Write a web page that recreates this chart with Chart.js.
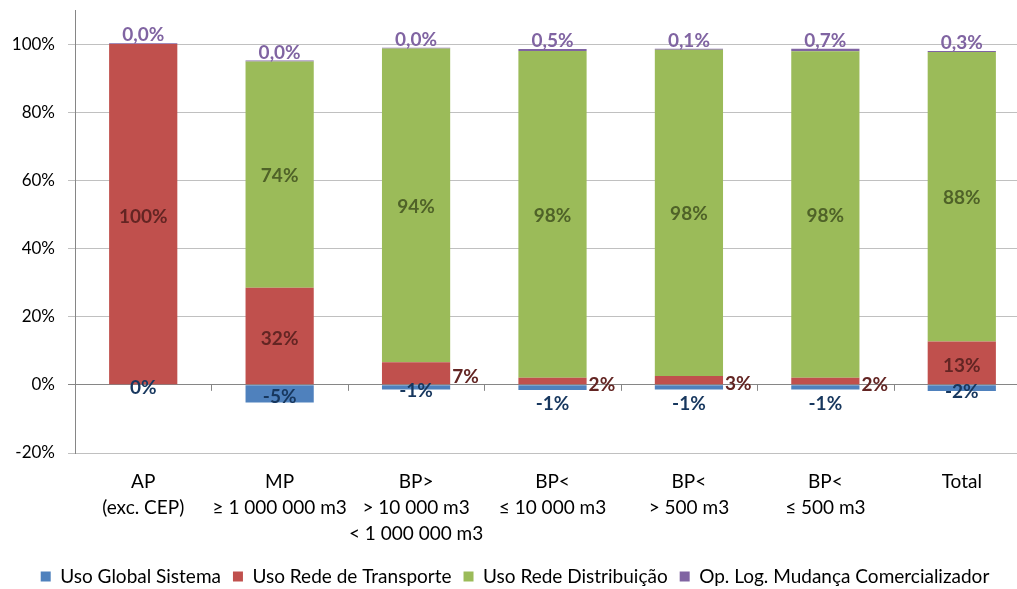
<!DOCTYPE html>
<html><head><meta charset="utf-8">
<script src="https://cdn.jsdelivr.net/npm/chart.js@4"></script>
<style>html,body{margin:0;padding:0;overflow:hidden;background:#fff;} #wrap{width:1050px;height:596px;}</style>
</head><body><div id="wrap"><canvas id="c" width="1050" height="596"></canvas></div>
<script>
const categories = [
  ['AP', '(exc. CEP)'],
  ['MP', '≥ 1 000 000 m3'],
  ['BP>', '> 10 000 m3', '< 1 000 000 m3'],
  ['BP<', '≤ 10 000 m3'],
  ['BP<', '> 500 m3'],
  ['BP<', '≤ 500 m3'],
  ['Total']
];
const usoGlobalSistema    = [0, -5.2, -1.4, -1.5, -1.4, -1.4, -1.8];
const usoRedeTransporte   = [100, 28.5, 6.6, 2.1, 2.6, 2.1, 12.7];
const usoRedeDistribuicao = [0, 66.4, 92.1, 95.9, 95.7, 95.8, 85.0];
const opLogMudanca        = [0.25, 0.25, 0.25, 0.55, 0.3, 0.7, 0.3];

const labelsGlobal       = ['0%', '-5%', '-1%', '-1%', '-1%', '-1%', '-2%'];
const labelsTransporte   = ['100%', '32%', '7%', '2%', '3%', '2%', '13%'];
const labelsDistribuicao = ['', '74%', '94%', '98%', '98%', '98%', '88%'];
const labelsMudanca      = ['0,0%', '0,0%', '0,0%', '0,5%', '0,1%', '0,7%', '0,3%'];

const yTicks = [-20, 0, 20, 40, 60, 80, 100];

// label placement styles (not data)
const modesGlobal = ['center', 'center', 'center', 'below', 'below', 'below', 'center'];
const modesTransporte = ['center', 'center', 'right', 'right', 'right', 'right', 'center'];
const modesDistribuicao = ['center', 'center', 'center', 'center', 'center', 'center', 'center'];
const modesMudanca = ['above', 'above', 'above', 'above', 'above', 'above', 'above'];

const FONT = 'Lato';

const labelPlugin = {
  id: 'barLabels',
  afterDatasetsDraw(chart) {
    const ctx = chart.ctx;
    chart.data.datasets.forEach((ds, di) => {
      const meta = chart.getDatasetMeta(di);
      meta.data.forEach((bar, i) => {
        const txt = ds.valueLabels[i];
        if (!txt) return;
        const mode = ds.labelModes[i];
        const top = Math.min(bar.y, bar.base), bottom = Math.max(bar.y, bar.base);
        const cy = (top + bottom) / 2;
        let x = bar.x, y = cy, align = 'center';
        if (mode === 'center') y = cy + (ds.labelShift || 0);
        else if (mode === 'below') y = bottom + 13;
        else if (mode === 'right') { x = bar.x + bar.width / 2 + 2; align = 'left'; y = cy + 2.5; }
        else if (mode === 'above') y = top - 9;
        ctx.save();
        ctx.font = 'bold 19px ' + FONT;
        ctx.fillStyle = ds.labelColor;
        ctx.textAlign = align;
        ctx.textBaseline = 'alphabetic';
        ctx.fillText(txt, x, y + 7);
        ctx.restore();
      });
    });
  }
};

const zeroTicks = {
  id: 'zeroTicks',
  beforeDatasetsDraw(chart) {
    const xs = chart.scales.x, ys = chart.scales.y;
    const y0 = ys.getPixelForValue(0);
    const n = xs.ticks.length;
    const ctx = chart.ctx;
    ctx.save();
    ctx.strokeStyle = '#868686';
    ctx.lineWidth = 1;
    for (let i = 1; i <= n; i++) {
      const x = Math.round(xs.left + i * xs.width / n) + 0.5;
      ctx.beginPath();
      ctx.moveTo(x, y0);
      ctx.lineTo(x, y0 + 6);
      ctx.stroke();
    }
    ctx.restore();
  }
};

new Chart(document.getElementById('c'), {
  type: 'bar',
  data: {
    labels: categories,
    datasets: [
      { label: 'Uso Global Sistema', data: usoGlobalSistema, backgroundColor: '#4F81BD',
        valueLabels: labelsGlobal, labelModes: modesGlobal, labelColor: '#17375E', labelShift: 2.5 },
      { label: 'Uso Rede de Transporte', data: usoRedeTransporte, backgroundColor: '#C0504D',
        valueLabels: labelsTransporte, labelModes: modesTransporte, labelColor: '#632523', labelShift: 2 },
      { label: 'Uso Rede Distribuição', data: usoRedeDistribuicao, backgroundColor: '#9BBB59',
        valueLabels: labelsDistribuicao, labelModes: modesDistribuicao, labelColor: '#4F6228', labelShift: 0.5 },
      { label: 'Op. Log. Mudança Comercializador', data: opLogMudanca, backgroundColor: '#8064A2',
        valueLabels: labelsMudanca, labelModes: modesMudanca, labelColor: '#8064A2' }
    ]
  },
  options: {
    responsive: false,
    animation: false,
    devicePixelRatio: 1,
    layout: { padding: { top: 10, right: 20, left: 0, bottom: 0 } },
    datasets: { bar: { barPercentage: 0.5, categoryPercentage: 1.0, borderWidth: 0 } },
    plugins: {
      legend: {
        position: 'bottom',
        labels: { boxWidth: 10, boxHeight: 10, padding: 12, color: '#000', font: { family: FONT, size: 19 } }
      },
      tooltip: { enabled: false }
    },
    scales: {
      x: {
        stacked: true,
        grid: { display: false, drawTicks: false },
        border: { display: false },
        ticks: { color: '#000', font: { family: FONT, size: 19, lineHeight: 1.37 }, padding: 16, maxRotation: 0, autoSkip: false },
        afterFit: s => { s.height = 102; s.paddingLeft = 0; s.paddingRight = 0; }
      },
      y: {
        stacked: true,
        min: -20, max: 110,
        afterBuildTicks: s => { s.ticks = yTicks.map(v => ({ value: v })); },
        afterFit: s => { s.width = 75; s.paddingTop = 0; s.paddingBottom = 0; },
        grid: {
          color: c => (c.tick && c.tick.value === 0) ? '#868686' : '#C0C0C0',
          tickColor: c => (c.tick && c.tick.value === 0) ? '#868686' : '#C0C0C0',
          tickLength: 7
        },
        border: { color: '#868686' },
        ticks: { color: '#000', font: { family: FONT, size: 17 }, padding: 13, callback: v => v + '%' }
      }
    }
  },
  plugins: [zeroTicks, labelPlugin]
});
</script>
</body></html>
